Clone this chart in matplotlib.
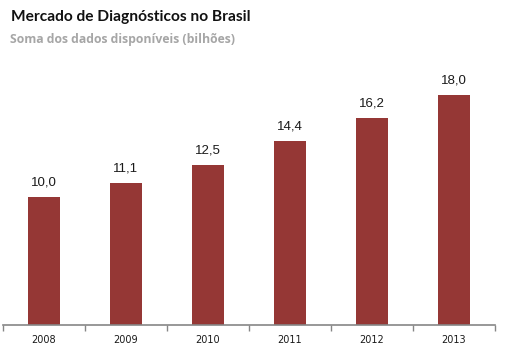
import matplotlib.pyplot as plt
import numpy as np

anos = ["2008", "2009", "2010", "2011", "2012", "2013"]
valores = [10.0, 11.1, 12.5, 14.4, 16.2, 18.0]
rotulos = ["10,0", "11,1", "12,5", "14,4", "16,2", "18,0"]

cor_barra = "#953735"
cor_eixo = "#868686"

fig = plt.figure(figsize=(5.15, 3.48), dpi=100)
ax = fig.add_axes([3 / 515, 23 / 348, 492 / 515, 265 / 348])

x = np.arange(len(anos))
ax.bar(x, valores, width=0.39, color=cor_barra)
for xi, v, r in zip(x, valores, rotulos):
    ax.annotate(r, (xi, v), xytext=(0, 6), textcoords="offset points",
                ha="center", va="bottom", fontsize=9.5, color="#1a1a1a",
                family="Liberation Sans")

ax.set_xlim(-0.5, len(anos) - 0.5)
ax.set_ylim(0, 20.7)
ax.set_yticks([])
ax.set_xticks(x)
ax.set_xticklabels(anos, fontsize=7, color="#1a1a1a", family="DejaVu Sans")
ax.tick_params(axis="x", length=0, pad=7)
ax.set_xticks(np.arange(len(anos) + 1) - 0.5, minor=True)
ax.tick_params(axis="x", which="minor", length=4, color=cor_eixo, width=1)
for lado in ["top", "right", "left"]:
    ax.spines[lado].set_visible(False)
ax.spines["bottom"].set_color(cor_eixo)
ax.spines["bottom"].set_linewidth(1.2)

fig.text(11 / 515, 1 - 21 / 348, "Mercado de Diagnósticos no Brasil",
         fontsize=11.2, color="#111111", family="Lato",
         fontweight="bold", va="baseline")
fig.text(10 / 515, 1 - 43 / 348, "Soma dos dados disponíveis (bilhões)",
         fontsize=8.8, color="#a6a6a6", fontweight="bold", family="Open Sans",
         va="baseline")

fig.savefig("out.png", dpi=100)
